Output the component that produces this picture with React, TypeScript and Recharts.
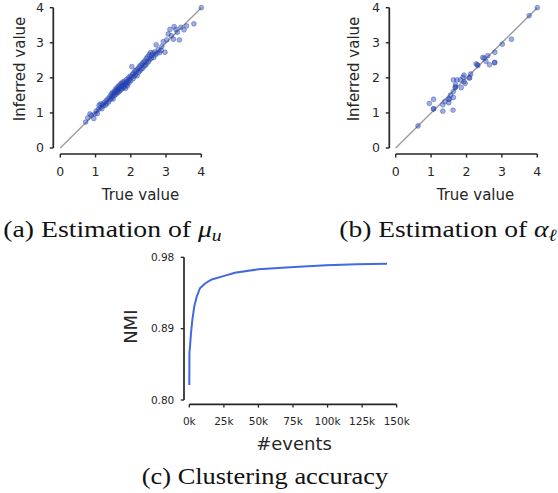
import { ScatterChart, Scatter, LineChart, Line, XAxis, YAxis, ReferenceLine } from "recharts";

// (a) estimation of mu_u
const muTrue = [
  0.72, 0.78, 0.84, 0.88, 0.95, 0.98, 1.02, 1.05, 1.08, 1.1,
  1.13, 1.15, 1.18, 1.2, 1.22, 1.25, 1.28, 1.3, 1.32, 1.35,
  1.37, 1.4, 1.42, 1.44, 1.45, 1.47, 1.48, 1.5, 1.51, 1.53,
  1.54, 1.56, 1.57, 1.58, 1.6, 1.61, 1.62, 1.64, 1.65, 1.66,
  1.68, 1.69, 1.7, 1.72, 1.73, 1.74, 1.76, 1.77, 1.78, 1.8,
  1.81, 1.82, 1.84, 1.85, 1.86, 1.88, 1.89, 1.9, 1.92, 1.93,
  1.95, 1.96, 1.98, 2.0, 2.02, 2.03, 2.05, 2.07, 2.08, 2.1,
  2.12, 2.14, 2.16, 2.18, 2.2, 2.22, 2.24, 2.26, 2.28, 2.3,
  2.32, 2.34, 2.36, 2.38, 2.4, 2.42, 2.44, 2.46, 2.48, 2.5,
  2.52, 2.54, 2.56, 2.58, 2.6, 2.62, 2.65, 2.68, 2.7, 2.72,
  2.74, 2.78, 2.82, 2.86, 2.88, 2.92, 2.97, 3.02, 3.06, 3.11,
  3.15, 3.21, 3.23, 3.28, 3.32, 3.38, 3.42, 3.51, 3.58, 3.79,
  4.0,
];
const muInferred = [
  0.74, 0.86, 0.97, 0.93, 0.84, 0.97, 1.05, 0.98, 1.1, 1.22,
  1.15, 1.26, 1.12, 1.24, 1.2, 1.3, 1.22, 1.35, 1.27, 1.4,
  1.31, 1.46, 1.38, 1.52, 1.42, 1.57, 1.47, 1.4, 1.55, 1.62,
  1.5, 1.58, 1.68, 1.53, 1.64, 1.72, 1.57, 1.66, 1.76, 1.6,
  1.7, 1.8, 1.64, 1.74, 1.84, 1.68, 1.78, 1.88, 1.71, 1.82,
  1.74, 1.9, 1.8, 1.7, 1.86, 1.95, 1.82, 1.77, 1.9, 2.0,
  1.86, 1.95, 2.05, 1.92, 2.02, 2.32, 2.1, 1.98, 2.14, 2.05,
  2.2, 2.1, 2.22, 2.06, 2.26, 2.16, 2.32, 2.2, 2.36, 2.25,
  2.4, 2.28, 2.45, 2.34, 2.48, 2.36, 2.55, 2.42, 2.6, 2.46,
  2.66, 2.52, 2.72, 2.56, 2.64, 2.7, 2.58, 2.74, 2.66, 2.94,
  2.7, 2.8, 2.72, 2.78, 2.89, 3.03, 2.73, 3.08, 3.25, 3.38,
  3.2, 3.1, 3.46, 3.38, 3.3, 3.08, 3.44, 3.37, 3.48, 3.54,
  4.0,
];

// (b) estimation of alpha_l
const alphaTrue = [
  0.63, 0.95, 1.07, 1.07, 1.07, 1.33, 1.33, 1.39, 1.5, 1.52,
  1.5, 1.55, 1.62, 1.63, 1.63, 1.63, 1.68, 1.69, 1.69, 1.73,
  1.83, 1.85, 1.9, 1.93, 1.93, 1.96, 2.08, 2.09, 2.12, 2.27,
  2.31, 2.32, 2.46, 2.5, 2.55, 2.6, 2.65, 2.79, 2.8, 2.8,
  3.01, 3.27, 3.77, 4.0,
];
const alphaInferred = [
  0.63, 1.27, 1.39, 1.11, 1.12, 1.23, 1.05, 1.32, 1.39, 1.4,
  1.29, 1.51, 1.08, 1.44, 1.61, 1.94, 1.72, 1.74, 1.8, 1.94,
  1.94, 1.72, 2.02, 2.08, 1.89, 1.84, 1.99, 2.01, 2.11, 2.4,
  2.37, 2.35, 2.58, 2.56, 2.47, 2.63, 2.37, 2.43, 2.44, 2.73,
  2.96, 3.1, 3.77, 4.0,
];
const unitTicks = [0, 1, 2, 3, 4];

// (c) clustering accuracy
const eventsK = [0, 0.1, 0.5, 1.2, 2.2, 3.6, 5.3, 7.7, 11.4, 16.2, 23.4, 33, 50, 73, 99, 121, 143];
const nmi = [0.819, 0.86, 0.867, 0.884, 0.901, 0.918, 0.93, 0.941, 0.947, 0.952, 0.9556, 0.9606, 0.9649, 0.9675, 0.97, 0.9711, 0.972];
const eventTicks = [0, 25, 50, 75, 100, 125, 150];
const nmiTicks = [0.8, 0.89, 0.98];

const SANS = "DejaVu Sans";
const SERIF = "Liberation Serif";
const INK = "#262626";
const AXIS = "#262626";
const DOT = "#2240b0";

const muData = muTrue.map((x, i) => ({ x, y: muInferred[i] }));
const alphaData = alphaTrue.map((x, i) => ({ x, y: alphaInferred[i] }));
const nmiData = eventsK.map((k, i) => ({ k, nmi: nmi[i] }));

const dot = (p: any) => (
  <circle cx={p.cx} cy={p.cy} r={2.4} fill={DOT} fillOpacity={0.42} stroke={DOT} strokeOpacity={0.5} strokeWidth={0.8} />
);

const xTitle = (text: string, x: number, y: number, size: number) => () => (
  <text x={x} y={y} textAnchor="middle" fontSize={size} fontFamily={SANS} fill={INK}>
    {text}
  </text>
);

const yTitle = (text: string, x: number, y: number, size: number) => () => (
  <text x={x} y={y} transform={`rotate(-90 ${x} ${y})`} textAnchor="middle" fontSize={size} fontFamily={SANS} fill={INK}>
    {text}
  </text>
);

function Scatterplot({ data, left, yAxisW, padX, titleX, titleY }: any) {
  const tick = { fill: INK, fontSize: 12.5, fontFamily: SANS };
  return (
    <div style={{ position: "absolute", left, top: 0 }}>
      <ScatterChart width={yAxisW + 148 + 28} height={210} margin={{ top: 7.7, right: 28, bottom: 0, left: 0 }}>
        <XAxis
          type="number"
          dataKey="x"
          domain={[0, 4]}
          ticks={unitTicks}
          interval={0}
          height={56}
          padding={{ left: padX, right: 0 }}
          tickSize={3.5}
          tickMargin={9.6}
          tick={tick}
          tickLine={{ stroke: AXIS, strokeWidth: 1.4 }}
          axisLine={{ stroke: AXIS, strokeWidth: 1.7, strokeDasharray: `0 ${padX} ${148 - padX}` }}
          label={xTitle("True value", titleX, 200, 15)}
        />
        <YAxis
          type="number"
          dataKey="y"
          domain={[0, 4]}
          ticks={unitTicks}
          interval={0}
          width={yAxisW}
          padding={{ top: 0, bottom: 6 }}
          tickSize={3.5}
          tickMargin={5.8}
          tick={tick}
          tickLine={{ stroke: AXIS, strokeWidth: 1.4 }}
          axisLine={{ stroke: AXIS, strokeWidth: 1.7, strokeDasharray: "140.3 20" }}
          label={yTitle("Inferred value", titleY, 69, 15)}
        />
        <Scatter data={data} shape={dot} isAnimationActive={false} />
        <ReferenceLine segment={[{ x: 0, y: 0 }, { x: 4, y: 4 }]} stroke="#9a9a9a" strokeWidth={1.3} />
      </ScatterChart>
    </div>
  );
}

export default function App() {
  const tickC = { fill: INK, fontSize: 10.5, fontFamily: SANS };
  return (
    <div style={{ position: "absolute", left: 0, top: 0, width: 558, height: 493, background: "#fff" }}>
      <Scatterplot data={muData} left={0} yAxisW={53.3} padX={7} titleX={140.5} titleY={25} />
      <Scatterplot data={alphaData} left={300} yAxisW={89.3} padX={6.4} titleX={175.5} titleY={59} />

      <div style={{ position: "absolute", left: 100, top: 250 }}>
        <LineChart width={320} height={210} data={nmiData} margin={{ top: 7.3, right: 23.3, bottom: 0, left: 0 }}>
          <XAxis
            type="number"
            dataKey="k"
            domain={[0, 150]}
            ticks={eventTicks}
            interval={0}
            tickFormatter={(v: number) => `${v}k`}
            height={55.7}
            padding={{ left: 5.3, right: 0 }}
            tickSize={3.3}
            tickMargin={10}
            tick={tickC}
            tickLine={{ stroke: AXIS, strokeWidth: 1.3 }}
            axisLine={{ stroke: AXIS, strokeWidth: 1.7, strokeDasharray: "0 5.3 207.4" }}
            label={xTitle("#events", 194, 200, 18)}
          />
          <YAxis
            type="number"
            domain={[0.8, 0.98]}
            ticks={nmiTicks}
            interval={0}
            tickFormatter={(v: number) => v.toFixed(2)}
            width={84}
            padding={{ top: 0, bottom: 4.3 }}
            tickSize={3.3}
            tickMargin={6.4}
            tick={tickC}
            tickLine={{ stroke: AXIS, strokeWidth: 1.3 }}
            axisLine={{ stroke: AXIS, strokeWidth: 1.7, strokeDasharray: "142.7 20" }}
            label={yTitle("NMI", 37, 76.7, 18)}
          />
          <Line type="linear" dataKey="nmi" stroke="#4169e1" strokeWidth={2} dot={false} isAnimationActive={false} />
        </LineChart>
      </div>

      <svg width={558} height={493} style={{ position: "absolute", left: 0, top: 0, pointerEvents: "none" }}>
        <text x={3.3} y={236.5} textLength={218.4} lengthAdjust="spacingAndGlyphs" fontFamily={SERIF} fontSize={24} fill="#111">
          (a) Estimation of <tspan fontStyle="italic">μ</tspan>
          <tspan fontStyle="italic" fontSize={17} dy={4}>u</tspan>
        </text>
        <text x={339.3} y={236.5} textLength={217.4} lengthAdjust="spacingAndGlyphs" fontFamily={SERIF} fontSize={24} fill="#111">
          (b) Estimation of <tspan fontStyle="italic">α</tspan>
          <tspan fontStyle="italic" fontSize={17} dy={4}>ℓ</tspan>
        </text>
        <text x={141.7} y={484.3} textLength={246.6} lengthAdjust="spacingAndGlyphs" fontFamily={SERIF} fontSize={24} fill="#111">
          (c) Clustering accuracy
        </text>
      </svg>
    </div>
  );
}
